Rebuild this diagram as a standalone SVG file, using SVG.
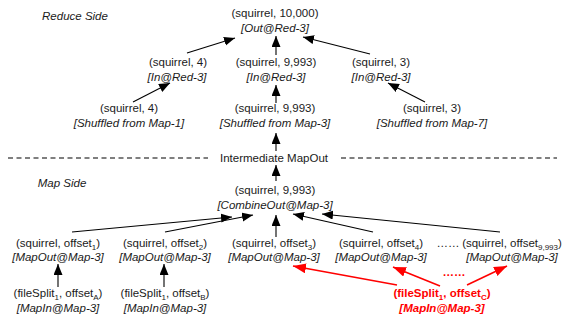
<svg xmlns="http://www.w3.org/2000/svg" width="563" height="323" viewBox="0 0 563 323">
<style>
text{font-family:"Liberation Sans",Arial,sans-serif;font-size:11.5px;fill:#1a1a1a;text-anchor:middle}
.i{font-style:italic}
.r{fill:#ff0000;font-weight:bold}
.s{font-size:8px}
.c line{stroke:#000;stroke-width:1.1}
.c .red{stroke:#ff0000;stroke-width:1.6}
.dash{stroke:#000;stroke-width:1.1;stroke-dasharray:5 3.5}
</style>
<defs>
<marker id="ah" markerUnits="userSpaceOnUse" markerWidth="12" markerHeight="10" refX="11" refY="4.5" orient="auto"><path d="M0,0 L11,4.5 L0,9 Z" fill="#000"/></marker>
<marker id="ahr" markerUnits="userSpaceOnUse" markerWidth="14" markerHeight="12" refX="13" refY="5" orient="auto"><path d="M0,0 L13,5 L0,10 Z" fill="#ff0000"/></marker>
</defs>
<rect width="563" height="323" fill="#fff"/>
<g id="dashed-separator">
<line class="dash" x1="8" y1="158" x2="208" y2="158"/>
<line class="dash" x1="341" y1="158" x2="557" y2="158"/>
</g>
<g id="reduce-side-label"><text class="i" x="75" y="20">Reduce Side</text></g>
<g id="map-side-label"><text class="i" x="62" y="187">Map Side</text></g>
<g id="out-red3"><text x="275" y="17">(squirrel, 10,000)</text><text class="i" x="275" y="32">[Out@Red-3]</text></g>
<g id="in-red3-a"><text x="178" y="66">(squirrel, 4)</text><text class="i" x="177" y="81">[In@Red-3]</text></g>
<g id="in-red3-b"><text x="276" y="66">(squirrel, 9,993)</text><text class="i" x="276" y="81">[In@Red-3]</text></g>
<g id="in-red3-c"><text x="381" y="66">(squirrel, 3)</text><text class="i" x="381" y="81">[In@Red-3]</text></g>
<g id="shuffled-map1"><text x="129" y="112">(squirrel, 4)</text><text class="i" x="129" y="127">[Shuffled from Map-1]</text></g>
<g id="shuffled-map3"><text x="275" y="112">(squirrel, 9,993)</text><text class="i" x="275" y="127">[Shuffled from Map-3]</text></g>
<g id="shuffled-map7"><text x="432" y="112">(squirrel, 3)</text><text class="i" x="432" y="127">[Shuffled from Map-7]</text></g>
<g id="intermediate-mapout"><text x="274" y="162">Intermediate MapOut</text></g>
<g id="combineout"><text x="275" y="194">(squirrel, 9,993)</text><text class="i" x="275" y="209">[CombineOut@Map-3]</text></g>
<g id="mapout-1"><text x="58" y="247">(squirrel, offset<tspan class="s" dy="2.5">1</tspan><tspan dy="-2.5">)</tspan></text><text class="i" x="58" y="261">[MapOut@Map-3]</text></g>
<g id="mapout-2"><text x="165" y="247">(squirrel, offset<tspan class="s" dy="2.5">2</tspan><tspan dy="-2.5">)</tspan></text><text class="i" x="165" y="261">[MapOut@Map-3]</text></g>
<g id="mapout-3"><text x="274" y="247">(squirrel, offset<tspan class="s" dy="2.5">3</tspan><tspan dy="-2.5">)</tspan></text><text class="i" x="274" y="261">[MapOut@Map-3]</text></g>
<g id="mapout-4"><text x="381" y="247">(squirrel, offset<tspan class="s" dy="2.5">4</tspan><tspan dy="-2.5">)</tspan></text><text class="i" x="381" y="261">[MapOut@Map-3]</text></g>
<g id="ellipsis-black"><text x="448" y="247">……</text></g>
<g id="mapout-5"><text x="512" y="247">(squirrel, offset<tspan class="s" dy="2.5">9,993</tspan><tspan dy="-2.5">)</tspan></text><text class="i" x="512" y="261">[MapOut@Map-3]</text></g>
<g id="mapin-a"><text x="58" y="297">(fileSplit<tspan class="s" dy="2.5">1</tspan><tspan dy="-2.5">, offset</tspan><tspan class="s" dy="2.5">A</tspan><tspan dy="-2.5">)</tspan></text><text class="i" x="58" y="312">[MapIn@Map-3]</text></g>
<g id="mapin-b"><text x="165" y="297">(fileSplit<tspan class="s" dy="2.5">1</tspan><tspan dy="-2.5">, offset</tspan><tspan class="s" dy="2.5">B</tspan><tspan dy="-2.5">)</tspan></text><text class="i" x="165" y="312">[MapIn@Map-3]</text></g>
<g id="ellipsis-red"><text class="r" x="454" y="276">……</text></g>
<g id="mapin-c"><text class="r" x="442" y="297">(fileSplit<tspan class="s" dy="2.5">1</tspan><tspan dy="-2.5">, offset</tspan><tspan class="s" dy="2.5">C</tspan><tspan dy="-2.5">)</tspan></text><text class="r i" x="442" y="312">[MapIn@Map-3]</text></g>
<g id="connectors" class="c">
<line x1="187" y1="53" x2="235" y2="38" marker-end="url(#ah)"/>
<line x1="276" y1="55" x2="276" y2="36" marker-end="url(#ah)"/>
<line x1="370" y1="54" x2="303" y2="37" marker-end="url(#ah)"/>
<line x1="133" y1="102" x2="170" y2="83" marker-end="url(#ah)"/>
<line x1="276" y1="103" x2="276" y2="85" marker-end="url(#ah)"/>
<line x1="425" y1="102" x2="388" y2="83" marker-end="url(#ah)"/>
<line x1="276" y1="151" x2="276" y2="133" marker-end="url(#ah)"/>
<line x1="276" y1="181" x2="276" y2="165" marker-end="url(#ah)"/>
<line x1="72" y1="232" x2="232" y2="217" marker-end="url(#ah)"/>
<line x1="165" y1="232" x2="253" y2="215" marker-end="url(#ah)"/>
<line x1="276" y1="237" x2="276" y2="215" marker-end="url(#ah)"/>
<line x1="373" y1="232" x2="293" y2="214" marker-end="url(#ah)"/>
<line x1="500" y1="232" x2="322" y2="214" marker-end="url(#ah)"/>
<line x1="58" y1="287" x2="58" y2="264" marker-end="url(#ah)"/>
<line x1="164" y1="287" x2="164" y2="264" marker-end="url(#ah)"/>
<line class="red" x1="397" y1="285" x2="293" y2="266" marker-end="url(#ahr)"/>
<line class="red" x1="440" y1="286" x2="393" y2="267" marker-end="url(#ahr)"/>
<line class="red" x1="467" y1="285" x2="507" y2="266" marker-end="url(#ahr)"/>
</g>
</svg>
